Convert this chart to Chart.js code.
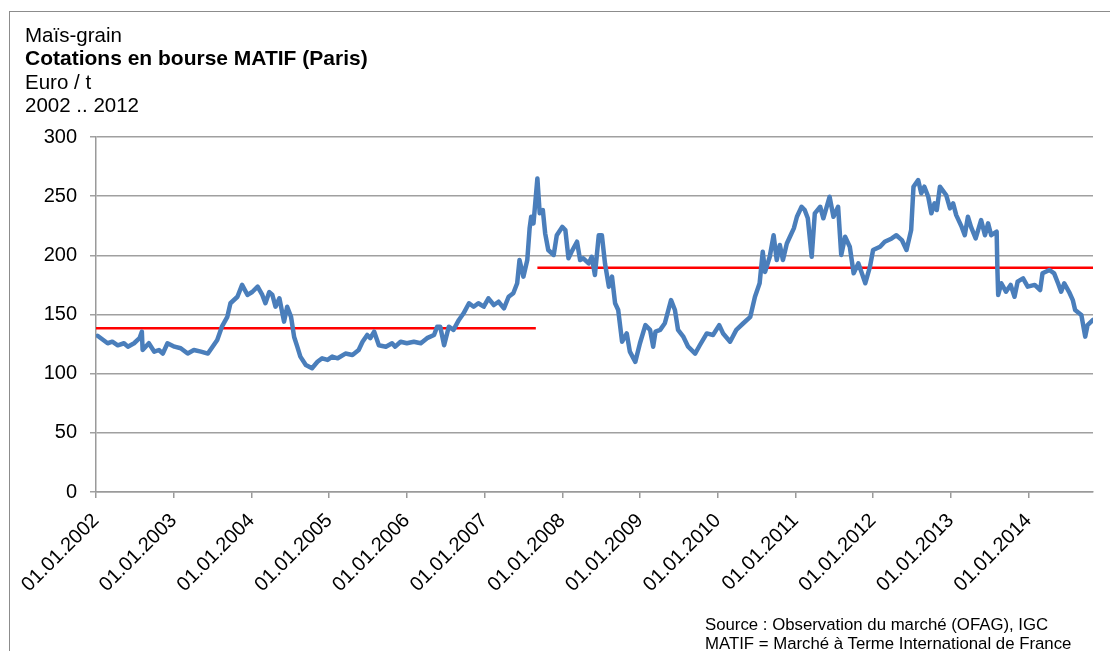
<!DOCTYPE html>
<html>
<head>
<meta charset="utf-8">
<script src="https://cdn.jsdelivr.net/npm/chart.js@4.4.1/dist/chart.umd.min.js"></script>
<style>
  body { margin: 0; background: #fff; font-family: "Liberation Sans", Arial, sans-serif; }
  #wrap { position: relative; width: 1110px; height: 651px; overflow: hidden; }
  #frame { position: absolute; left: 9px; top: 11px; width: 1200px; height: 700px; border: 1px solid #8c8c8c; }
  #titles { position: absolute; left: 25px; top: 23px; font-size: 20.5px; line-height: 23.3px; color: #000; }
  #titles .b { font-weight: bold; font-size: 21px; }
  #source { position: absolute; left: 705px; top: 615px; font-size: 16.8px; line-height: 19.3px; color: #000; }
  canvas { position: absolute; left: 0; top: 0; }
</style>
</head>
<body>
<div id="wrap">
  <div id="frame"></div>
  <canvas id="chart" width="1110" height="651"></canvas>
  <div id="titles">
    <div>Maïs-grain</div>
    <div class="b">Cotations en bourse MATIF (Paris)</div>
    <div>Euro / t</div>
    <div>2002 .. 2012</div>
  </div>
  <div id="source">
    <div>Source : Observation du marché (OFAG), IGC</div>
    <div>MATIF = Marché à Terme International de France</div>
  </div>
</div>
<script>
// dates as decimal years, prices in Euro / t
var dates = [
  2002.02, 2002.15, 2002.21, 2002.28, 2002.36, 2002.41, 2002.49, 2002.56, 2002.59, 2002.60,
  2002.68, 2002.75, 2002.81, 2002.86, 2002.92, 2003.01, 2003.09, 2003.18, 2003.26, 2003.35,
  2003.44, 2003.50, 2003.56, 2003.62, 2003.69, 2003.73, 2003.82, 2003.88, 2003.95, 2004.01,
  2004.08, 2004.14, 2004.18, 2004.23, 2004.27, 2004.31, 2004.36, 2004.42, 2004.46, 2004.51,
  2004.55, 2004.59, 2004.63, 2004.70, 2004.78, 2004.85, 2004.91, 2004.98, 2005.04, 2005.11,
  2005.21, 2005.30, 2005.38, 2005.43, 2005.49, 2005.53, 2005.58, 2005.64, 2005.73, 2005.81,
  2005.85, 2005.92, 2006.00, 2006.09, 2006.18, 2006.26, 2006.35, 2006.39, 2006.43, 2006.48,
  2006.54, 2006.60, 2006.67, 2006.73, 2006.80, 2006.86, 2006.92, 2006.99, 2007.05, 2007.12,
  2007.18, 2007.25, 2007.31, 2007.37, 2007.42, 2007.45, 2007.50, 2007.55, 2007.58, 2007.60,
  2007.63, 2007.68, 2007.71, 2007.75, 2007.78, 2007.82, 2007.89, 2007.93, 2008.00, 2008.04,
  2008.08, 2008.12, 2008.19, 2008.23, 2008.27, 2008.34, 2008.38, 2008.42, 2008.47, 2008.51,
  2008.55, 2008.60, 2008.64, 2008.68, 2008.72, 2008.77, 2008.83, 2008.87, 2008.94, 2009.00,
  2009.07, 2009.13, 2009.17, 2009.20, 2009.26, 2009.32, 2009.40, 2009.45, 2009.49, 2009.56,
  2009.62, 2009.71, 2009.77, 2009.86, 2009.94, 2010.02, 2010.07, 2010.16, 2010.24, 2010.33,
  2010.42, 2010.48, 2010.54, 2010.58, 2010.61, 2010.67, 2010.72, 2010.76, 2010.80, 2010.84,
  2010.89, 2010.93, 2010.98, 2011.02, 2011.08, 2011.12, 2011.16, 2011.21, 2011.25, 2011.32,
  2011.36, 2011.44, 2011.49, 2011.55, 2011.59, 2011.64, 2011.70, 2011.75, 2011.81, 2011.85,
  2011.90, 2011.96, 2012.00, 2012.09, 2012.15, 2012.24, 2012.30, 2012.37, 2012.43, 2012.49,
  2012.52, 2012.58, 2012.62, 2012.66, 2012.71, 2012.75, 2012.79, 2012.82, 2012.86, 2012.94,
  2012.99, 2013.03, 2013.07, 2013.14, 2013.18, 2013.22, 2013.26, 2013.32, 2013.39, 2013.44,
  2013.48, 2013.52, 2013.59, 2013.60, 2013.61, 2013.65, 2013.71, 2013.77, 2013.82, 2013.86,
  2013.93, 2013.99, 2014.08, 2014.15, 2014.18, 2014.27, 2014.33, 2014.38, 2014.42, 2014.46,
  2014.53, 2014.57, 2014.60, 2014.68, 2014.73, 2014.76, 2014.83
];
var prices = [
  132, 125.7, 127, 124, 125.7, 122.8, 125.7, 130, 135.5, 120,
  125.7, 118.6, 120, 117, 125.7, 122.8, 121.5, 117, 120, 118.6,
  117, 122.8, 128.5, 139.7, 148, 159.5, 165, 175, 166.5, 169,
  173.5, 166.5, 159.5, 169, 166.5, 156.6, 163.7, 144, 156.6, 148,
  131, 122.8, 114.4, 107.3, 104.6, 110, 113, 111.6, 114.4, 113,
  117, 115.8, 120, 127, 132.7, 130, 135.5, 124, 122.8, 125.7,
  122.8, 127, 125.7, 127, 125.7, 130, 132.7, 139.7, 139.7, 124,
  139.7, 137, 145.4, 151, 159.5, 156.6, 159.5, 156.6, 163.7, 158,
  160.8, 155.2, 165, 168, 176.4, 196, 182, 196, 222.8, 232.6,
  227, 265, 235.5, 238.3, 218.6, 204.5, 200.3, 217, 224, 221.4,
  197.5, 203, 211.5, 196, 197.5, 193.2, 198.8, 183.4, 217, 217,
  193.2, 173.5, 182, 159.5, 153.8, 127, 134, 118.6, 110, 125.7,
  141, 137, 122.8, 135.5, 137, 142.6, 162.2, 153.8, 137, 131,
  122.8, 117, 124, 134, 132.7, 141, 134, 127, 137, 142.6,
  148, 165, 176.4, 203, 186, 198.8, 217, 196, 208.7, 196,
  210, 215.7, 222.8, 232.6, 241, 238.3, 231.3, 198.8, 235.5, 241,
  231.3, 249.5, 232.6, 241, 200.3, 215.7, 207.3, 184.8, 193.2, 186,
  176.4, 190.4, 204.5, 207.3, 211.5, 214.3, 217, 212.9, 204.5, 221.4,
  258, 263.6, 252.4, 258, 249.5, 235.5, 243.9, 238.3, 258, 251,
  239.7, 243.9, 234, 224, 217, 232.6, 224, 214.3, 229.8, 217,
  227, 217, 220, 187.6, 166.5, 176.4, 169.3, 175, 165, 177.7,
  180.6, 173.5, 175, 170.7, 184.8, 187.6, 184.8, 176.4, 169.3, 176.4,
  168, 162.2, 153.8, 149.6, 131.3, 141, 145.4
];

// period averages (red lines)
var avgStart = [2002.0, 2007.68];
var avgEnd = [2007.66, 2014.83];
var avgValues = [138.3, 189.5];

var tickYears = [2002, 2003, 2004, 2005, 2006, 2007, 2008, 2009, 2010, 2011, 2012, 2013, 2014];
var yTicks = [0, 50, 100, 150, 200, 250, 300];

var mainPoints = [];
for (var i = 0; i < dates.length; i++) {
  mainPoints.push({x: dates[i], y: prices[i]});
}

var datasets = [{
  data: mainPoints,
  borderColor: '#4a7ebb',
  borderWidth: 4.5,
  pointRadius: 0,
  tension: 0,
  borderJoinStyle: 'round',
  borderCapStyle: 'round'
}];
for (var p = 0; p < avgValues.length; p++) {
  datasets.push({
    data: [{x: avgStart[p], y: avgValues[p]}, {x: avgEnd[p], y: avgValues[p]}],
    borderColor: '#ff0000',
    borderWidth: 2.5,
    pointRadius: 0
  });
}

var font = "'Liberation Sans', Arial, sans-serif";

var ctx = document.getElementById('chart');
var chart = new Chart(ctx, {
  type: 'line',
  data: { datasets: datasets },
  options: {
    responsive: false,
    animation: false,
    layout: { padding: { top: 137, right: 17, left: 0, bottom: 0 } },
    plugins: { legend: { display: false }, tooltip: { enabled: false } },
    scales: {
      x: {
        type: 'linear',
        min: tickYears[0],
        max: avgEnd[1],
        afterBuildTicks: function(scale) {
          scale.ticks = tickYears.map(function(v) { return {value: v}; });
        },
        afterFit: function(scale) { scale.height = 159; },
        ticks: {
          autoSkip: false,
          maxRotation: 45,
          minRotation: 45,
          color: '#000',
          padding: 11,
          font: { family: font, size: 20 },
          callback: function(v) { return '01.01.' + v; }
        },
        grid: { drawOnChartArea: false, drawTicks: true, tickLength: 6, color: '#9a9a9a', lineWidth: 1.5 },
        border: { color: '#9a9a9a', width: 1.5 }
      },
      y: {
        min: 0,
        max: 300,
        afterBuildTicks: function(scale) {
          scale.ticks = yTicks.map(function(v) { return {value: v}; });
        },
        afterFit: function(scale) { scale.width = 96; },
        ticks: {
          color: '#000',
          padding: 13,
          font: { family: font, size: 20 }
        },
        grid: { color: '#a0a0a0', lineWidth: 1.5, tickLength: 6 },
        border: { color: '#9a9a9a', width: 1.5 }
      }
    }
  }
});
</script>
</body>
</html>
